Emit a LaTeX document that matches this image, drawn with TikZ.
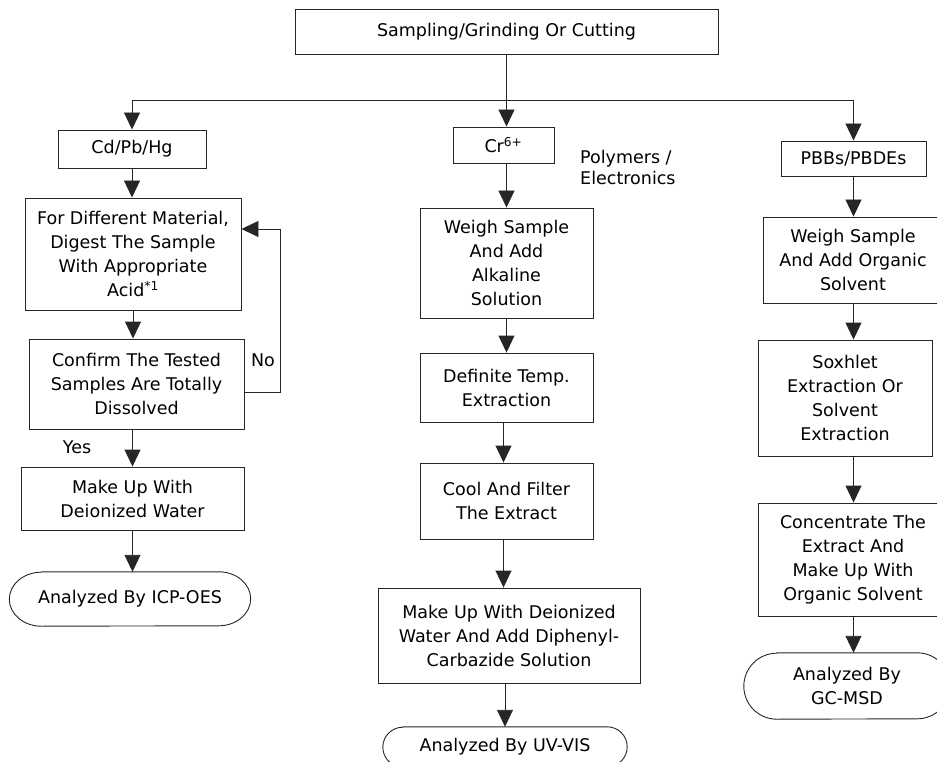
\documentclass[tikz,border=0pt]{standalone}
\usepackage{fontspec}
\setmainfont{DejaVu Sans}
\usetikzlibrary{arrows.meta}
\tikzset{
  lc/.style={draw=black!85, line width=0.9pt},
  arr/.style={lc, -{Triangle[width=16pt,length=17pt]}},
  bx/.style 2 args={lc, rectangle, minimum width=#1pt, minimum height=#2pt, inner sep=0pt, align=center,
     font=\fontsize{17.5}{24}\selectfont},
  tm/.style 2 args={rectangle, minimum width=#1pt, minimum height=#2pt, inner sep=0pt, align=center,
     font=\fontsize{17.5}{24}\selectfont},
  lbl/.style={inner sep=0pt, font=\fontsize{17.5}{21}\selectfont, align=left}
}
\newcommand\myterm[3]{%
  \draw[lc] ([xshift=#2pt]#1.north west) -- ([xshift=-#2pt]#1.north east)
    arc[start angle=90, end angle=-90, x radius=#2pt, y radius=#3pt]
    -- ([xshift=#2pt]#1.south west)
    arc[start angle=270, end angle=90, x radius=#2pt, y radius=#3pt] -- cycle;}
\begin{document}
\begin{tikzpicture}[x=1pt, y=-1pt]
\useasboundingbox (0,0) rectangle (937,762);
\clip (0,0) rectangle (937,762);

% top
\node[bx={423}{45}] (top) at (506.5,31.5) {Sampling/Grinding Or Cutting};
\coordinate (hl) at (132,100);
\coordinate (hr) at (853.5,100);

% left column
\node[bx={148}{38}] (cd) at (132,149) {Cd/Pb/Hg};
\node[bx={216}{112}] (dig) at (133,254) {For Different Material,\\Digest The Sample\\With Appropriate\\Acid\textsuperscript{*1}};
\node[bx={215}{90}] (conf) at (136.5,384) {Confirm The Tested\\Samples Are Totally\\Dissolved};
\node[bx={223}{63}] (mk) at (132.5,498.5) {Make Up With\\Deionized Water};
\node[tm={241}{54}] (icp) at (130,599) {Analyzed By ICP-OES};
\myterm{icp}{32}{27}
\node[lbl] (no) at (263,360) {No};
\node[lbl] (yes) at (77,447) {Yes};

% middle column
\node[bx={101}{36}] (cr) at (503.5,145) {Cr\textsuperscript{6+}};
\node[lbl, anchor=west] (poly) at (580,167) {Polymers /\\Electronics};
\node[bx={173}{110}] (w1) at (506.5,263) {Weigh Sample\\And Add\\Alkaline\\Solution};
\node[bx={173}{69}] (def) at (506.5,387.5) {Definite Temp.\\Extraction};
\node[bx={173}{76}] (cool) at (506.5,501) {Cool And Filter\\The Extract};
\node[bx={262}{95}] (mkw) at (509,635.5) {Make Up With Deionized\\Water And Add Diphenyl-\\Carbazide Solution};
\node[tm={244}{40}] (uv) at (505,747) {Analyzed By UV-VIS};
\myterm{uv}{20}{20}

% right column
\node[bx={145}{35}] (pbb) at (853.5,158.5) {PBBs/PBDEs};
\node[bx={180}{86}] (w2) at (853,260) {Weigh Sample\\And Add Organic\\Solvent};
\node[bx={174}{116}] (sox) at (845,398) {Soxhlet\\Extraction Or\\Solvent\\Extraction};
\node[bx={190}{113}] (conc) at (853,559.5) {Concentrate The\\Extract And\\Make Up With\\Organic Solvent};
\node[tm={206}{66}] (gc) at (847,686) {Analyzed By\\GC-MSD};
\myterm{gc}{33}{33}

% connectors
\draw[arr] (top.south) -- (top.south |- cr.north);
\draw[lc] (hl) -- (hr);
\draw[arr] (hl) -- (cd);
\draw[arr] (hr) -- (pbb);

\draw[arr] (cd) -- (cd.south |- dig.north);
\draw[arr] (dig.south) -- (dig.south |- conf.north);
\draw[arr] (conf.south -| mk.north) -- (mk.north);
\draw[arr] (mk.south) -- (mk.south |- icp.north);
\draw[arr] ([yshift=-8pt]conf.east) -- ++(36pt,0) |- ([yshift=25pt]dig.east);

\draw[arr] (top.south |- cr.south) -- (top.south |- w1.north);
\draw[arr] (w1) -- (def);
\draw[arr] ([xshift=-3pt]def.south) -- ([xshift=-3pt]cool.north);
\draw[arr] ([xshift=-3pt]cool.south) -- ([xshift=-3pt]cool.south |- mkw.north);
\draw[arr] (uv.north |- mkw.south) -- (uv.north);

\draw[arr] (pbb) -- (pbb.south |- w2.north);
\draw[arr] (w2.south -| pbb.south) -- (pbb.south |- sox.north);
\draw[arr] (pbb.south |- sox.south) -- (pbb.south |- conc.north);
\draw[arr] (pbb.south |- conc.south) -- (pbb.south |- gc.north);
\end{tikzpicture}
\end{document}
